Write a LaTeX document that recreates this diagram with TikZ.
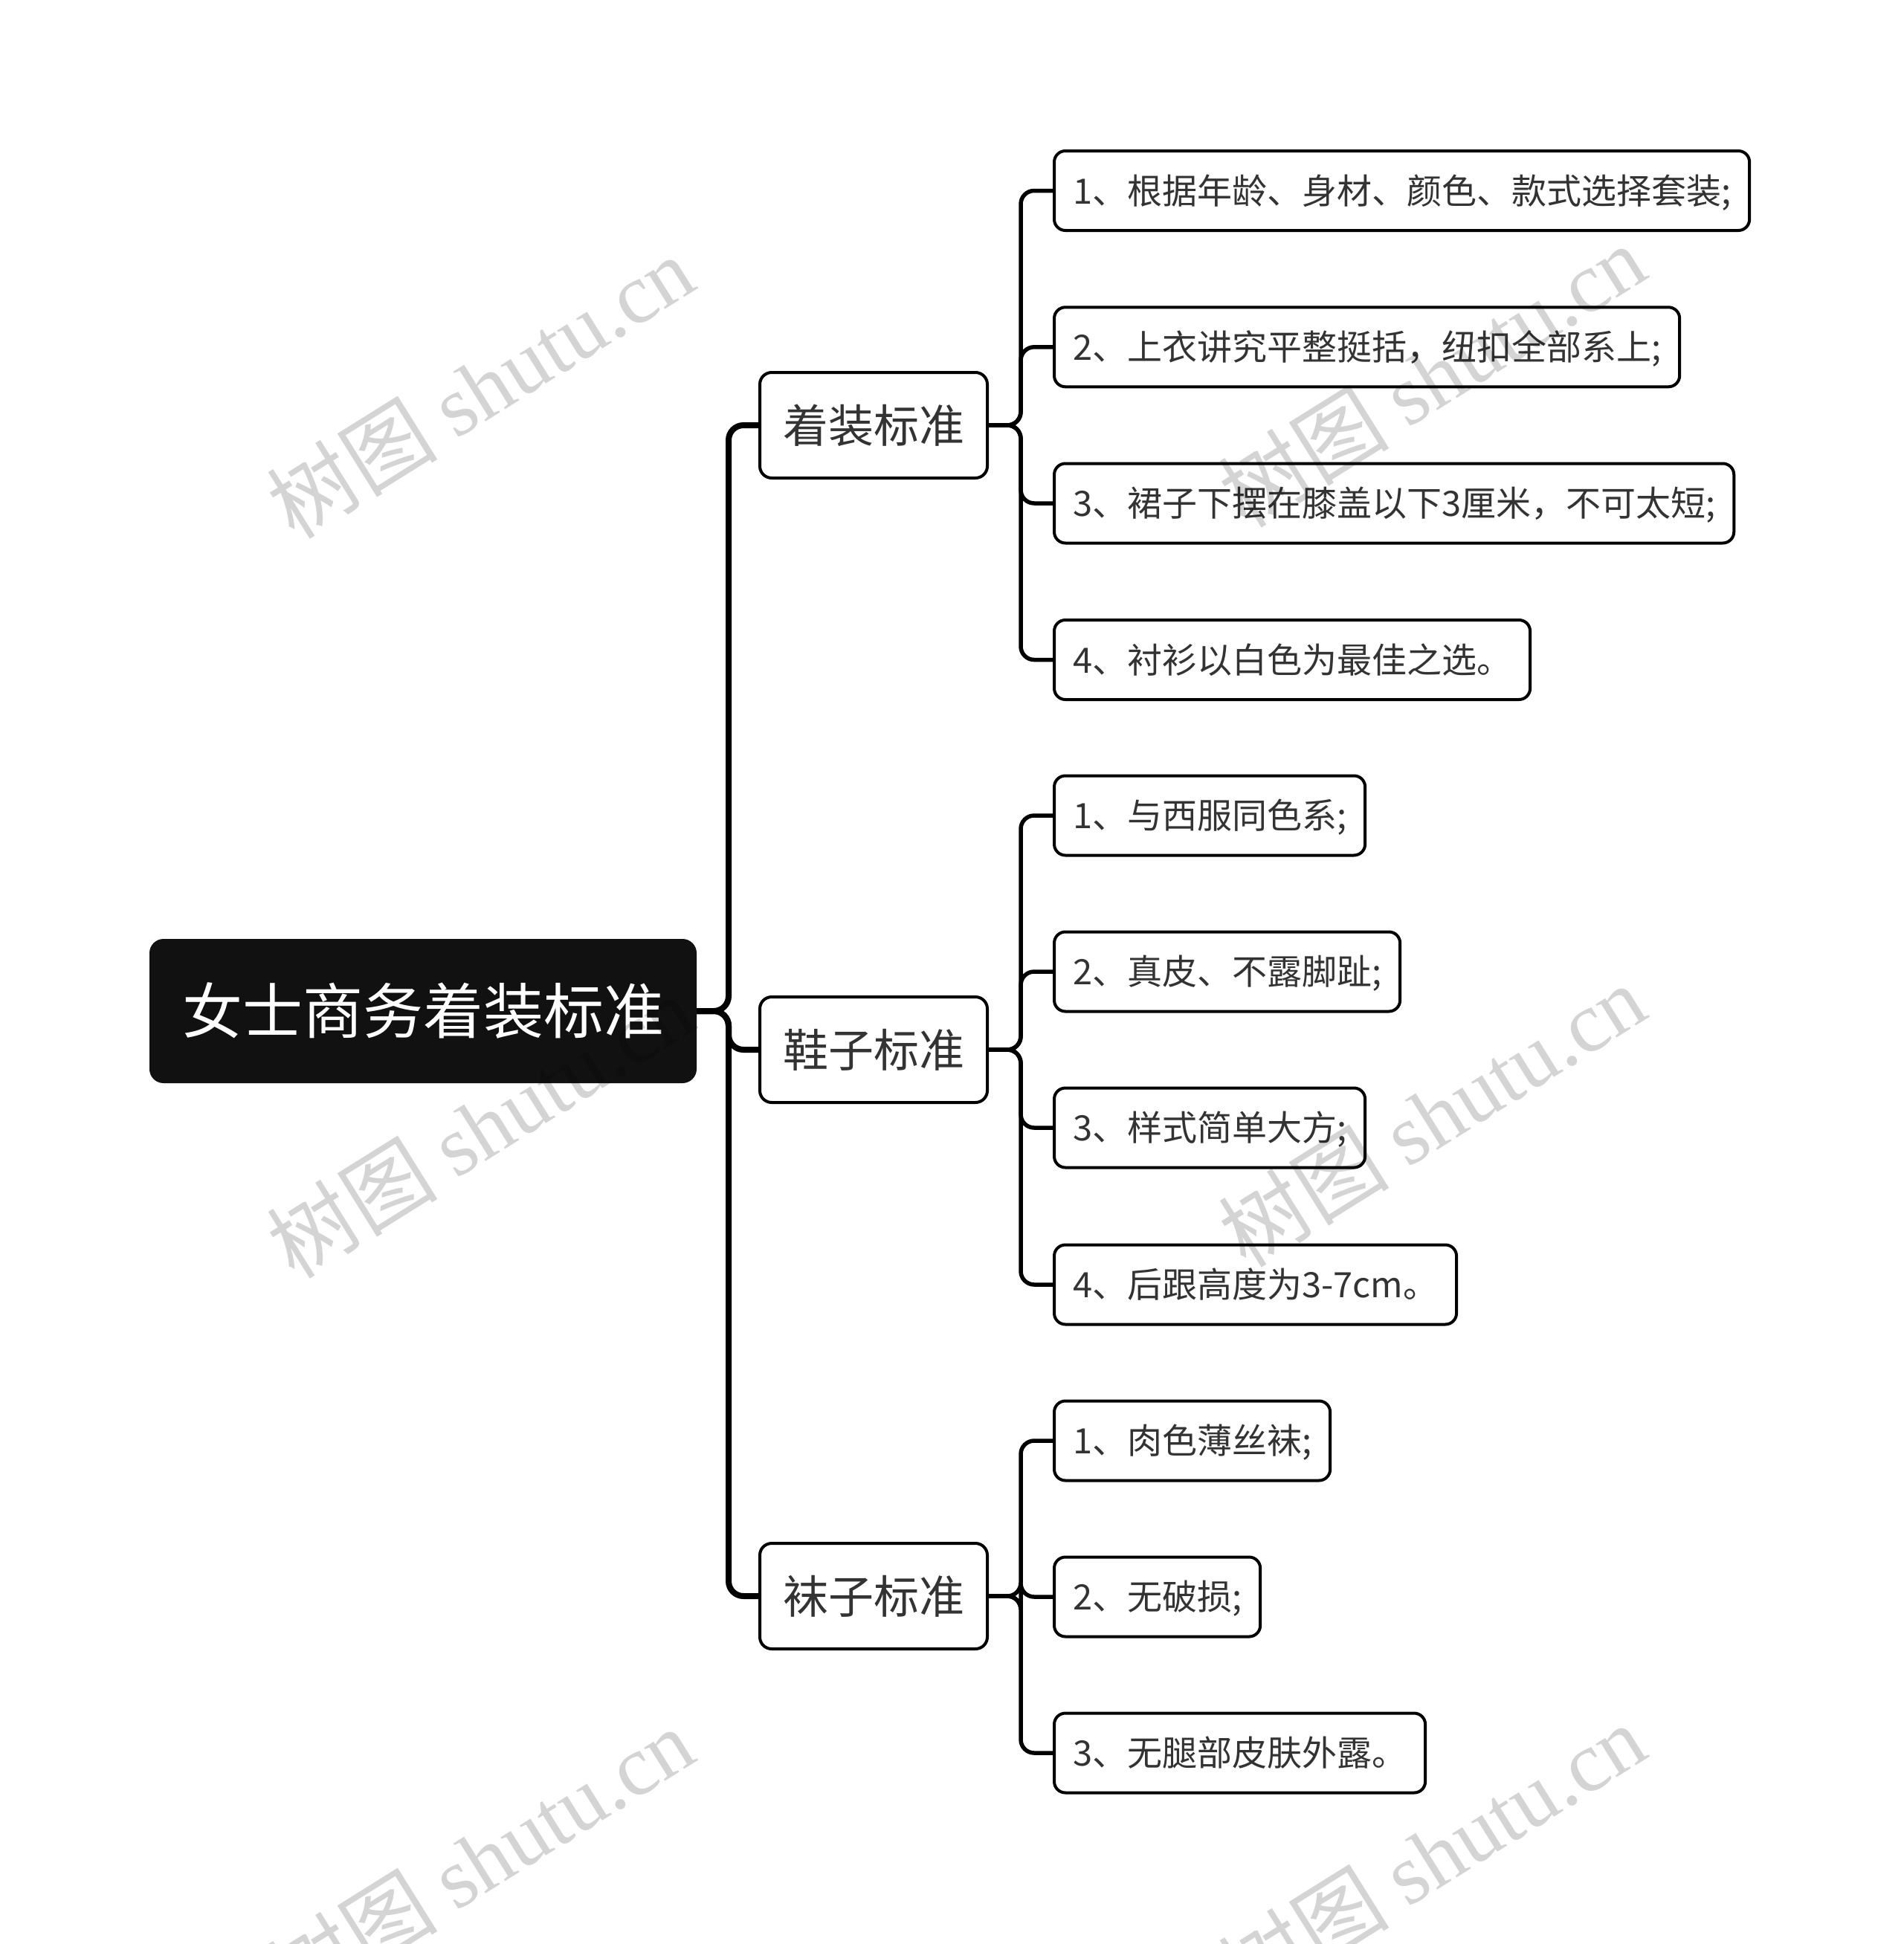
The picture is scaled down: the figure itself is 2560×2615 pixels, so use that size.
\documentclass[tikz,border=0pt]{standalone}
\usepackage{fontspec}
\setmainfont{Noto Sans CJK SC}
\newfontfamily\wmlatin{Liberation Serif}
\usetikzlibrary{backgrounds}
\definecolor{txt}{HTML}{333333}
\definecolor{rootfill}{HTML}{111111}
\tikzset{
  rootbox/.style={draw=rootfill, fill=rootfill, rounded corners=18pt, line width=2pt,
    text=white, font=\fontsize{81}{90}\selectfont, minimum width=734pt, minimum height=192pt,
    inner sep=0pt, text height=69pt, text depth=7.5pt},
  branchbox/.style={draw=black, fill=white, line width=4pt, rounded corners=16pt,
    text=txt, font=\fontsize{61}{70}\selectfont, minimum width=306pt, minimum height=142pt,
    inner sep=0pt, text height=52pt, text depth=6pt},
  leafbox/.style={draw=black, fill=white, line width=4pt, rounded corners=15pt,
    text=txt, font=\fontsize{47}{56}\selectfont, minimum height=107pt,
    inner xsep=25pt, inner ysep=0pt, anchor=west, text height=41pt, text depth=6pt},
  trunk/.style={draw=black, line width=8pt, rounded corners=20pt},
  twig/.style={draw=black, line width=5.5pt, rounded corners=18pt},
  wm/.style={rotate=32, text=black, text opacity=0.17, font=\fontsize{115}{120}\selectfont}
}
\begin{document}
\begin{tikzpicture}[x=1pt,y=-1pt]
\useasboundingbox (0,0) rectangle (2560,2615);

\node[rootbox] (root) at (569,1360) {女士商务着装标准};

\node[branchbox] (b1) at (1175,572) {着装标准};
\node[branchbox] (b2) at (1175,1412) {鞋子标准};
\node[branchbox] (b3) at (1175,2147) {袜子标准};

\node[leafbox] (l11) at (1416,256.5) {1、根据年龄、身材、颜色、款式选择套装;};
\node[leafbox] (l12) at (1416,466.8) {2、上衣讲究平整挺括，纽扣全部系上;};
\node[leafbox] (l13) at (1416,677) {3、裙子下摆在膝盖以下3厘米，不可太短;};
\node[leafbox] (l14) at (1416,887.5) {4、衬衫以白色为最佳之选。};

\node[leafbox] (l21) at (1416,1097) {1、与西服同色系;};
\node[leafbox] (l22) at (1416,1307) {2、真皮、不露脚趾;};
\node[leafbox] (l23) at (1416,1517) {3、样式简单大方;};
\node[leafbox] (l24) at (1416,1728) {4、后跟高度为3-7cm。};

\node[leafbox] (l31) at (1416,1938) {1、肉色薄丝袜;};
\node[leafbox] (l32) at (1416,2148) {2、无破损;};
\node[leafbox] (l33) at (1416,2358) {3、无腿部皮肤外露。};

\begin{scope}[on background layer]
\fill[white] (0,0) rectangle (2560,2615);
\draw[trunk] (root.east) -- ++(43,0) |- (b1.west);
\draw[trunk] (root.east) -- ++(43,0) |- (b2.west);
\draw[trunk] (root.east) -- ++(43,0) |- (b3.west);
\foreach \l in {l11,l12,l13,l14} { \draw[twig] (b1.east) -- ++(43,0) |- (\l.west); }
\foreach \l in {l21,l22,l23,l24} { \draw[twig] (b2.east) -- ++(43,0) |- (\l.west); }
\foreach \l in {l31,l32,l33} { \draw[twig] (b3.east) -- ++(43,0) |- (\l.west); }
\end{scope}

% watermarks
\node[wm] (w1) at (646,520) {树图 {\wmlatin shutu.cn}};
\node[wm] (w2) at (646,1515) {树图 {\wmlatin shutu.cn}};
\node[wm] (w3) at (646,2500) {树图 {\wmlatin shutu.cn}};
\node[wm] (w4) at (1926,505) {树图 {\wmlatin shutu.cn}};
\node[wm] (w5) at (1926,1500) {树图 {\wmlatin shutu.cn}};
\node[wm] (w6) at (1926,2495) {树图 {\wmlatin shutu.cn}};
\end{tikzpicture}
\end{document}
